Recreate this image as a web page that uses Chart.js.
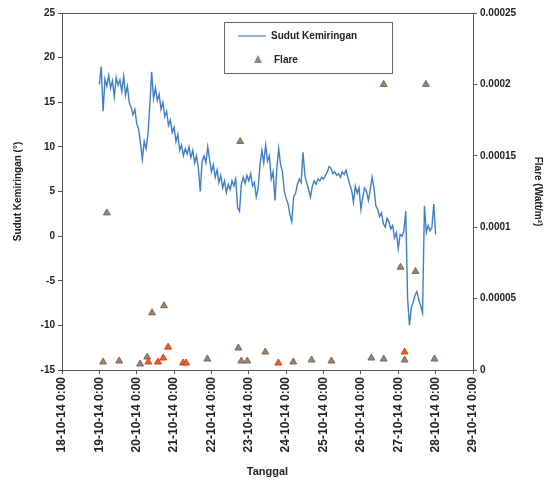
<!DOCTYPE html>
<html>
<head>
<meta charset="utf-8">
<script src="https://cdn.jsdelivr.net/npm/chart.js@4.4.1/dist/chart.umd.min.js"></script>
<style>
  html, body { margin: 0; padding: 0; background: #fff; }
  #wrap { width: 548px; height: 483px; }
</style>
</head>
<body>
<div id="wrap"><canvas id="chart" width="548" height="483"></canvas></div>
<script>
// Sudut Kemiringan (deg), time in days of October 2014
const sudutTime = [
  19.00, 19.05, 19.10, 19.15, 19.20, 19.25, 19.30, 19.35, 19.40, 19.45,
  19.50, 19.55, 19.60, 19.65, 19.70, 19.75, 19.80, 19.85, 19.90, 19.95,
  20.00, 20.05, 20.10, 20.15, 20.20, 20.25, 20.30, 20.35, 20.40, 20.45,
  20.50, 20.55, 20.60, 20.65, 20.70, 20.75, 20.80, 20.85, 20.90, 20.95,
  21.00, 21.05, 21.10, 21.15, 21.20, 21.25, 21.30, 21.35, 21.40, 21.45,
  21.50, 21.55, 21.60, 21.65, 21.70, 21.75, 21.80, 21.85, 21.90, 21.95,
  22.00, 22.05, 22.10, 22.15, 22.20, 22.25, 22.30, 22.35, 22.40, 22.45,
  22.50, 22.55, 22.60, 22.65, 22.70, 22.75, 22.80, 22.85, 22.90, 22.95,
  23.00, 23.05, 23.10, 23.15, 23.20, 23.25, 23.30, 23.35, 23.40, 23.45,
  23.50, 23.55, 23.60, 23.65, 23.70, 23.75, 23.80, 23.85, 23.90, 23.95,
  24.00, 24.05, 24.10, 24.15, 24.20, 24.25, 24.30, 24.35, 24.40, 24.45,
  24.50, 24.55, 24.60, 24.65, 24.70, 24.75, 24.80, 24.85, 24.90, 24.95,
  25.00, 25.05, 25.10, 25.15, 25.20, 25.25, 25.30, 25.35, 25.40, 25.45,
  25.50, 25.55, 25.60, 25.65, 25.70, 25.75, 25.80, 25.85, 25.90, 25.95,
  26.00, 26.05, 26.10, 26.15, 26.20, 26.25, 26.30, 26.35, 26.40, 26.45,
  26.50, 26.55, 26.60, 26.65, 26.70, 26.75, 26.80, 26.85, 26.90, 26.95,
  27.00, 27.05, 27.10, 27.15, 27.20, 27.25, 27.30, 27.35, 27.40, 27.45,
  27.50, 27.55, 27.60, 27.65, 27.70, 27.75, 27.80, 27.85, 27.90, 27.95,
  28.00
];
const sudutValue = [
  17.0, 19.0, 14.0, 17.6, 16.8, 18.0, 16.6, 17.4, 15.6, 17.8,
  16.9, 17.5, 16.2, 17.9, 15.8, 16.8, 15.0, 14.4, 13.6, 14.2,
  12.6, 12.0, 10.4, 8.6, 10.6, 9.8, 11.4, 14.6, 18.4, 15.4,
  16.6, 15.2, 15.9, 14.2, 15.0, 13.4, 14.0, 12.4, 13.0, 11.6,
  12.2, 10.6, 11.4, 9.6, 10.2, 9.0, 9.8, 9.2, 10.0, 8.8,
  9.6, 8.2, 9.0, 7.6, 5.0, 8.4, 9.0, 8.2, 10.0, 8.6,
  7.2, 8.0, 6.6, 7.4, 6.0, 6.8, 5.4, 6.2, 4.9, 5.8,
  5.2, 6.2, 5.6, 6.4, 3.2, 2.8, 5.8, 6.6, 5.9, 6.8,
  6.2, 7.0, 5.6, 6.0, 4.4, 5.4, 8.0, 9.6, 8.2, 10.2,
  8.4, 9.0, 6.4, 7.2, 4.0, 7.6, 9.8, 8.0, 7.2, 5.0,
  4.2, 3.6, 2.4, 1.6, 4.4, 4.8, 5.8, 6.4, 6.0, 9.4,
  6.8, 6.0, 5.2, 4.4, 5.6, 6.2, 5.8, 6.4, 6.2, 6.6,
  6.4, 6.8, 7.2, 7.8, 7.6, 7.0, 7.2, 6.8, 7.0, 6.6,
  7.2, 6.9, 7.4, 6.6, 5.8, 5.2, 3.8, 5.6, 4.8, 5.4,
  3.0, 4.4, 5.4, 5.0, 4.0, 5.2, 6.6, 5.4, 3.4, 3.0,
  2.2, 2.6, 1.4, 1.0, 2.0, 1.6, 0.8, 1.2, -0.2, 0.4,
  -1.4, 0.2, 0.0, 0.6, 2.8, -7.0, -10.0, -8.0, -7.4, -6.6,
  -6.2, -7.2, -7.8, -8.6, 3.4, 0.4, 1.2, 0.6, 1.0, 3.6,
  0.2
];

// Flare (Watt/m2)
const flareTime = [
  19.10, 19.20, 19.53, 20.09, 20.28, 20.31, 20.41, 20.57, 20.71, 20.73,
  20.84, 21.24, 21.32, 21.89, 22.72, 22.77, 22.80, 22.96, 23.44, 23.79,
  24.19, 24.68, 25.21, 26.28, 26.61, 26.61, 27.06, 27.17, 27.17, 27.46,
  27.74, 27.97
];
const flareValue = [
  0.0000056, 0.00011, 0.0000063, 0.0000042, 0.0000091, 0.0000056, 0.00004, 0.0000056, 0.0000084, 0.000045,
  0.000016, 0.0000049, 0.0000049, 0.0000077, 0.0000154, 0.00016, 0.0000063, 0.0000063, 0.0000126, 0.0000049,
  0.0000056, 0.000007, 0.0000063, 0.0000084, 0.0002, 0.0000077, 0.000072, 0.0000126, 0.000007, 0.000069,
  0.0002, 0.0000077
];

const xMin = 18;
const xMax = 29;
const leftTicks = [-15, -10, -5, 0, 5, 10, 15, 20, 25];

// a few flare markers look orange/red in the original
const orangeIdx = [5, 7, 8, 10, 11, 12, 19, 27];

const fontFam = '"Liberation Sans", Arial, sans-serif';
const axisColor = '#555';

const boxPlugin = {
  id: 'boxAndLegend',
  afterDraw(chart) {
    const { ctx, chartArea } = chart;
    ctx.save();
    // plot frame
    ctx.strokeStyle = axisColor;
    ctx.lineWidth = 1;
    ctx.beginPath();
    ctx.moveTo(chartArea.left, chartArea.top + 0.5);
    ctx.lineTo(chartArea.right, chartArea.top + 0.5);
    ctx.stroke();

    // legend box
    const lx = chartArea.left + 162, ly = chartArea.top + 9;
    ctx.strokeStyle = '#666';
    ctx.strokeRect(lx + 0.5, ly + 0.5, 168, 51);
    ctx.strokeStyle = '#4a86c8';
    ctx.lineWidth = 1.2;
    ctx.beginPath();
    ctx.moveTo(lx + 14, ly + 14);
    ctx.lineTo(lx + 42, ly + 14);
    ctx.stroke();
    ctx.fillStyle = '#222';
    ctx.font = 'bold 10px ' + fontFam;
    ctx.textBaseline = 'middle';
    ctx.fillText('Sudut Kemiringan', lx + 47, ly + 14);
    ctx.fillText('Flare', lx + 50, ly + 38);
    ctx.fillStyle = '#9a8470';
    ctx.beginPath();
    ctx.moveTo(lx + 34, ly + 33);
    ctx.lineTo(lx + 38, ly + 41);
    ctx.lineTo(lx + 30, ly + 41);
    ctx.closePath();
    ctx.fill();
    ctx.restore();
  }
};

const sudutPoints = sudutTime.map((t, i) => ({ x: t, y: sudutValue[i] }));
const flarePoints = flareTime.map((t, i) => ({ x: t, y: flareValue[i] }));

new Chart(document.getElementById('chart'), {
  type: 'scatter',
  data: {
    datasets: [
      {
        label: 'Sudut Kemiringan',
        data: sudutPoints,
        showLine: true,
        borderColor: '#3d80c6',
        borderWidth: 1.4,
        pointRadius: 0,
        yAxisID: 'y'
      },
      {
        label: 'Flare',
        data: flarePoints,
        pointStyle: 'triangle',
        pointRadius: 4,
        backgroundColor: (c) => orangeIdx.includes(c.dataIndex) ? '#e5602a' : '#9a8470',
        borderColor: (c) => orangeIdx.includes(c.dataIndex) ? '#d8401c' : '#7d6a58',
        borderWidth: 1,
        yAxisID: 'y2'
      }
    ]
  },
  options: {
    responsive: false,
    animation: false,
    layout: { padding: { top: 13, right: 0, left: 0, bottom: 0 } },
    plugins: {
      legend: { display: false },
      tooltip: { enabled: false }
    },
    scales: {
      x: {
        type: 'linear',
        min: xMin,
        max: xMax,
        afterFit: (s) => { s.height = 113; },
        ticks: {
          stepSize: 1,
          minRotation: 90,
          maxRotation: 90,
          color: '#222',
          font: { family: fontFam, size: 12, weight: 'bold' },
          callback: (v) => v + '-10-14 0:00'
        },
        grid: { drawOnChartArea: false, color: axisColor, tickLength: 4 },
        border: { color: axisColor },
        title: {
          display: true,
          text: 'Tanggal',
          color: '#222',
          font: { family: fontFam, size: 11, weight: 'bold' },
          padding: { top: 14 }
        }
      },
      y: {
        position: 'left',
        min: -15,
        max: 25,
        afterFit: (s) => { s.width = 62; },
        afterBuildTicks: (s) => { s.ticks = leftTicks.map(v => ({ value: v })); },
        ticks: {
          color: '#222',
          font: { family: fontFam, size: 10, weight: 'bold' }
        },
        grid: { drawOnChartArea: false, color: axisColor, tickLength: 4 },
        border: { color: axisColor },
        title: {
          display: true,
          text: 'Sudut Kemiringan (°)',
          color: '#222',
          font: { family: fontFam, size: 10, weight: 'bold' },
          padding: { top: 12, bottom: 4 }
        }
      },
      y2: {
        position: 'right',
        min: 0,
        max: 0.00025,
        afterFit: (s) => { s.width = 75; },
        ticks: {
          stepSize: 0.00005,
          color: '#222',
          font: { family: fontFam, size: 10, weight: 'bold' },
          callback: (v) => String(Number(v.toFixed(5)))
        },
        grid: { drawOnChartArea: false, color: axisColor, tickLength: 4 },
        border: { color: axisColor },
        title: {
          display: true,
          text: 'Flare (Watt/m²)',
          color: '#222',
          font: { family: fontFam, size: 10, weight: 'bold' }
        }
      }
    }
  },
  plugins: [boxPlugin]
});
</script>
</body>
</html>
